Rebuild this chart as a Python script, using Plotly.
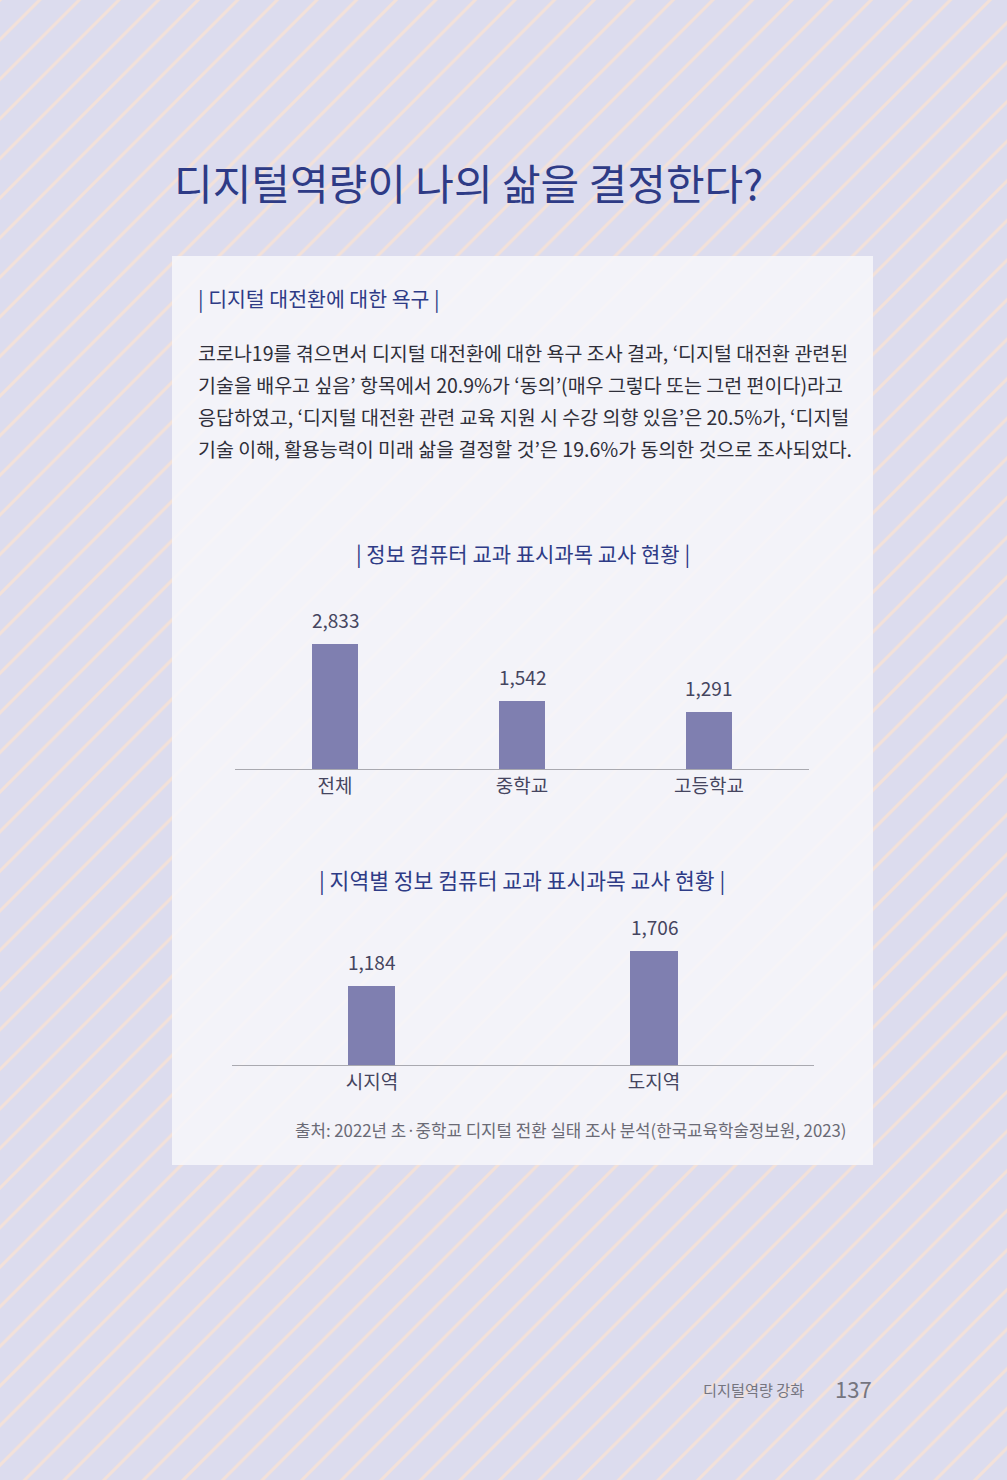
import plotly.graph_objects as go

# ---------------- data ----------------
chart1_title = "| 정보 컴퓨터 교과 표시과목 교사 현황 |"
chart1_categories = ["전체", "중학교", "고등학교"]
chart1_values = [2833, 1542, 1291]

chart2_title = "| 지역별 정보 컴퓨터 교과 표시과목 교사 현황 |"
chart2_categories = ["시지역", "도지역"]
chart2_values = [1184, 1706]

page_title = "디지털역량이 나의 삶을 결정한다?"
section_title = "| 디지털 대전환에 대한 욕구 |"
body_lines = [
    "코로나19를 겪으면서 디지털 대전환에 대한 욕구 조사 결과, ‘디지털 대전환 관련된",
    "기술을 배우고 싶음’ 항목에서 20.9%가 ‘동의’(매우 그렇다 또는 그런 편이다)라고",
    "응답하였고, ‘디지털 대전환 관련 교육 지원 시 수강 의향 있음’은 20.5%가, ‘디지털",
    "기술 이해, 활용능력이 미래 삶을 결정할 것’은 19.6%가 동의한 것으로 조사되었다.",
]
source_text = "출처: 2022년 초·중학교 디지털 전환 실태 조사 분석(한국교육학술정보원, 2023)"
footer_text = "디지털역량 강화"
page_number = "137"

# ---------------- styling ----------------
W, H = 1007, 1480
FONT = "Noto Sans CJK KR"
NAVY = "#2e3b86"
BAR = "#7f7fb0"
LABEL = "#45455f"
BG = "#dcdcee"


def py(p):
    """pixel y (from top) -> paper fraction"""
    return 1 - p / H


def px(p):
    return p / W


fig = go.Figure()

# background page with diagonal stripes (subplot xy, pixel coordinates)
fig.add_trace(go.Scatter(
    x=[0, W, W, 0, 0], y=[0, 0, H, H, 0],
    xaxis="x", yaxis="y", mode="lines", line=dict(width=0),
    fill="toself", fillcolor=BG,
    fillpattern=dict(shape="/", size=28, solidity=0.11,
                     fgcolor="#f3e1d9", bgcolor=BG, fillmode="replace"),
    hoverinfo="skip", showlegend=False,
))
# translucent white content box
fig.add_trace(go.Scatter(
    x=[172, 873, 873, 172, 172], y=[256, 256, 1165, 1165, 256],
    xaxis="x", yaxis="y", mode="lines", line=dict(width=0),
    fill="toself", fillcolor="rgba(246,246,250,0.88)",
    hoverinfo="skip", showlegend=False,
))

# chart 1
fig.add_trace(go.Bar(
    x=chart1_categories, y=chart1_values, xaxis="x2", yaxis="y2",
    marker=dict(color=BAR, line=dict(width=0)), width=0.25,
    hoverinfo="skip", showlegend=False,
))
# chart 2
fig.add_trace(go.Bar(
    x=chart2_categories, y=chart2_values, xaxis="x3", yaxis="y3",
    marker=dict(color=BAR, line=dict(width=0)), width=0.167,
    hoverinfo="skip", showlegend=False,
))

annotations = []
for c, v in zip(chart1_categories, chart1_values):
    annotations.append(dict(x=c, y=v, xref="x2", yref="y2", text=f"{v:,}",
                            showarrow=False, yanchor="bottom", yshift=9,
                            font=dict(family=FONT, size=19, color=LABEL)))
for c, v in zip(chart2_categories, chart2_values):
    annotations.append(dict(x=c, y=v, xref="x3", yref="y3", text=f"{v:,}",
                            showarrow=False, yanchor="bottom", yshift=9,
                            font=dict(family=FONT, size=19, color=LABEL)))

# text blocks
annotations.append(dict(x=px(172), y=py(182), xref="paper", yref="paper",
                        text=page_title, showarrow=False, xanchor="left", yanchor="middle",
                        font=dict(family=FONT, size=42, color=NAVY)))
annotations.append(dict(x=px(196), y=py(298), xref="paper", yref="paper",
                        text=section_title, showarrow=False, xanchor="left", yanchor="middle",
                        font=dict(family=FONT, size=20.5, color=NAVY)))
for i, line in enumerate(body_lines):
    annotations.append(dict(x=px(196), y=py(352 + 32 * i), xref="paper", yref="paper",
                            text=line, showarrow=False, xanchor="left", yanchor="middle",
                            font=dict(family=FONT, size=19.5, color="#2f2f3a")))
annotations.append(dict(x=px(523), y=py(553), xref="paper", yref="paper",
                        text=chart1_title, showarrow=False, xanchor="center", yanchor="middle",
                        font=dict(family=FONT, size=21, color=NAVY)))
annotations.append(dict(x=px(522), y=py(879), xref="paper", yref="paper",
                        text=chart2_title, showarrow=False, xanchor="center", yanchor="middle",
                        font=dict(family=FONT, size=21.5, color=NAVY)))
annotations.append(dict(x=px(849), y=py(1130), xref="paper", yref="paper",
                        text=source_text, showarrow=False, xanchor="right", yanchor="middle",
                        font=dict(family=FONT, size=16.8, color="#6a6a75")))
annotations.append(dict(x=px(806), y=py(1389), xref="paper", yref="paper",
                        text=footer_text, showarrow=False, xanchor="right", yanchor="middle",
                        font=dict(family=FONT, size=15.2, color="#75757f")))
annotations.append(dict(x=px(874), y=py(1388), xref="paper", yref="paper",
                        text=page_number, showarrow=False, xanchor="right", yanchor="middle",
                        font=dict(family=FONT, size=22, color="#75757f")))

hidden = dict(visible=False, fixedrange=True)
axis_x_common = dict(showgrid=False, zeroline=False, showline=True, linecolor="#a9a9b0",
                     linewidth=1.2, ticks="", fixedrange=True,
                     tickfont=dict(family=FONT, size=19, color=LABEL))
axis_y_common = dict(visible=False, fixedrange=True, showgrid=False, zeroline=False)

# chart 1 geometry: baseline at 769px, top of domain at 600px, 0.0441 px per unit
c1_top, c1_base = 600, 769
c1_scale = 0.0441
# chart 2 geometry: baseline at 1065px, top of domain at 900px, 0.067 px per unit
c2_top, c2_base = 900, 1065
c2_scale = 0.067

fig.update_layout(
    width=W, height=H,
    margin=dict(l=0, r=0, t=0, b=0),
    paper_bgcolor=BG, plot_bgcolor="rgba(0,0,0,0)",
    showlegend=False,
    xaxis=dict(domain=[0, 1], range=[0, W], **hidden),
    yaxis=dict(domain=[0, 1], range=[H, 0], **hidden),
    xaxis2=dict(domain=[px(235), px(809)], range=[-0.535, 2.535], anchor="y2", **axis_x_common),
    yaxis2=dict(domain=[py(c1_base), py(c1_top)], range=[0, (c1_base - c1_top) / c1_scale],
                anchor="x2", **axis_y_common),
    xaxis3=dict(domain=[px(232), px(814)], range=[-0.496, 1.567], anchor="y3", **axis_x_common),
    yaxis3=dict(domain=[py(c2_base), py(c2_top)], range=[0, (c2_base - c2_top) / c2_scale],
                anchor="x3", **axis_y_common),
    annotations=annotations,
    bargap=0,
)

fig.write_html("out.html")
